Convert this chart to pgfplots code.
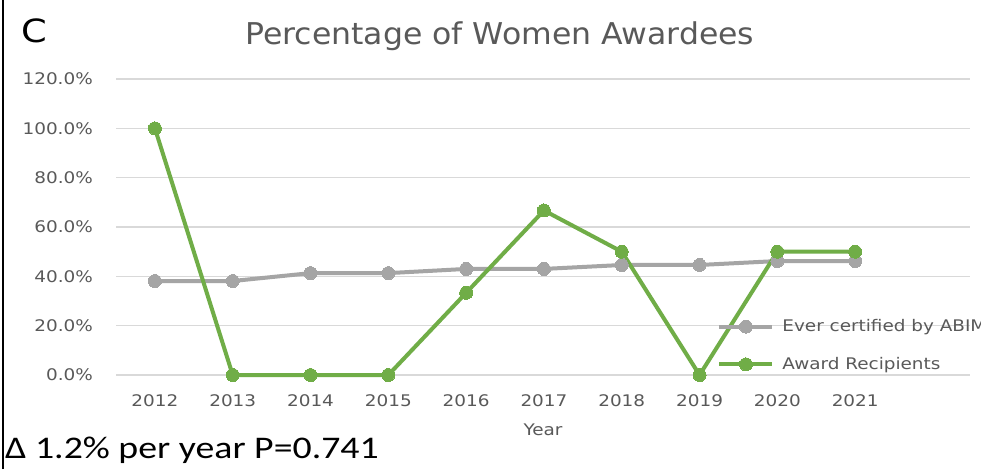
\documentclass[border=0pt]{standalone}
\usepackage{pgfplots}
\pgfplotsset{compat=1.18}
\usepackage{fontspec}
\setmainfont{DejaVu Sans}
\newfontfamily\axfont[FakeStretch=1.15]{DejaVu Sans}
\newfontfamily\titfont[FakeStretch=1.05]{DejaVu Sans}
\newfontfamily\calfont[FakeStretch=1.2]{Carlito}
\definecolor{txtgray}{HTML}{595959}
\definecolor{sergray}{HTML}{A5A5A5}
\definecolor{sergreen}{HTML}{70AD47}
\definecolor{gridgray}{HTML}{D9D9D9}
\begin{document}
\begin{tikzpicture}[x=1pt,y=1pt]
\useasboundingbox (0,0) rectangle (981,469);
\clip (0,0) rectangle (981,469);
\fill[white] (0,0) rectangle (981,469);
\draw[black, line width=2pt] (3,0) -- (3,469);
\node[anchor=base west, inner sep=0pt, text=black, font=\axfont\fontsize{32}{36}\selectfont] at (21,426) {C};
\node[anchor=base west, inner sep=0pt, text=txtgray, font=\titfont\fontsize{30}{34}\selectfont] at (245,424) {Percentage of Women Awardees};
\node[anchor=base west, inner sep=0pt, text=black, font=\calfont\fontsize{31.5}{36}\selectfont] at (5,11) {Δ 1.2\% per year P=0.741};
\begin{axis}[at={(116pt,94pt)}, anchor=south west, scale only axis,
  width=854pt, height=296pt,
  xmin=-0.5, xmax=10.476, ymin=0, ymax=120,
  ytick={0,20,...,120}, xtick={0,...,9},
  xticklabels={2012,2013,2014,2015,2016,2017,2018,2019,2020,2021},
  axis line style={draw=none}, major tick length=0pt,
  ymajorgrids, grid style={gridgray, line width=1.3pt},
  /pgf/number format/assume math mode=true,
  yticklabel={\pgfmathprintnumber[fixed,fixed zerofill,precision=1]{\tick}\%},
  ticklabel style={font=\axfont\fontsize{16}{18}\selectfont, text=txtgray, inner sep=0pt},
  yticklabel style={anchor=east, xshift=-23pt},
  xticklabel style={anchor=north, yshift=-19pt},
  xlabel={Year},
  xlabel style={at={(axis description cs:0.5,0)}, anchor=north, yshift=-49pt, inner sep=0pt, font=\axfont\fontsize{16}{18}\selectfont, text=txtgray},
  legend style={at={(0.704,0.0997)}, anchor=west, draw=none, fill=none, inner sep=0pt,
    font=\axfont\fontsize{16}{18}\selectfont, text=txtgray, row sep=24pt,
    nodes={inner sep=0pt}},
  legend cell align=left,
  legend image code/.code={\draw[#1, mark repeat=2, mark phase=2] plot coordinates {(0pt,0pt) (26.5pt,0pt) (53pt,0pt)}; \path (61pt,0pt);},
  clip=false]
\addplot[sergray, line width=4pt, mark=*, mark size=6.5pt, mark options={solid, fill=sergray, draw=sergray, line width=0pt}]
  coordinates {(0,38.1) (1,38.1) (2,41.3) (3,41.3) (4,43.0) (5,43.0) (6,44.6) (7,44.6) (8,46.2) (9,46.2)};
\addlegendentry{Ever certified by ABIM}
\addplot[sergreen, line width=4pt, mark=*, mark size=6.5pt, mark options={solid, fill=sergreen, draw=sergreen, line width=0pt}]
  coordinates {(0,100) (1,0) (2,0) (3,0) (4,33.3) (5,66.7) (6,50) (7,0) (8,50) (9,50)};
\addlegendentry{Award Recipients}
\end{axis}
\end{tikzpicture}
\end{document}
